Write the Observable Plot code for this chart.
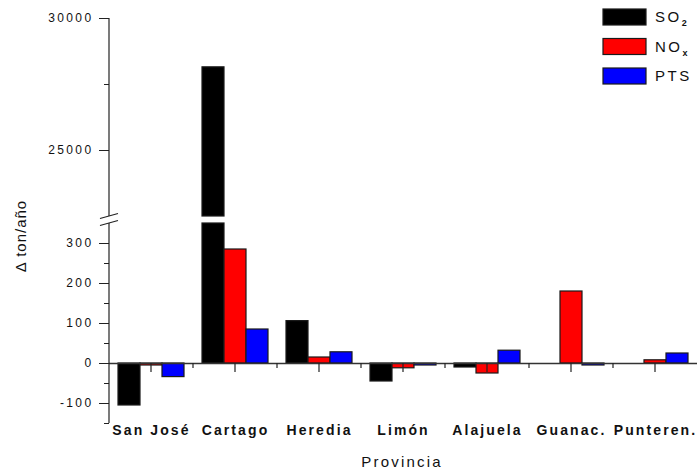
<!DOCTYPE html>
<html><head><meta charset="utf-8">
<script src="https://cdn.jsdelivr.net/npm/d3@7"></script>
<script src="https://cdn.jsdelivr.net/npm/@observablehq/plot@0.6"></script>
<style>
body{margin:0;background:#fff}
g[aria-label="y-axis tick label"] text{letter-spacing:2.4px}
g[aria-label="fx-axis tick label"] text{letter-spacing:2.1px}
</style></head><body><div id="chart"></div>
<script>
const provinces = ["San José","Cartago","Heredia","Limón","Alajuela","Guanac.","Punteren."];
const pollutants = ["SO2","NOx","PTS"];
const so2 = [-105, 28150, 106, -45, -10, 0, 0];
const nox = [-5, 285, 15, -12, -25, 180, 8];
const pts = [-34, 85, 28, -5, 32, -5, 25];
const colors = ["#000000","#ff0000","#0000ff"];
const yMajorTicks = [-100, 0, 100, 200, 300, 25000, 30000];
const yMinorTicks = [-150, -50, 50, 150, 250, 27500];
const lowerPanel = [-150, 350];
const upperPanel = [22500, 30000];
const legendLabels = [["SO","2"],["NO","x"],["PTS",""]];

// broken-axis mapping (layout settings): gap between panels and compression of the upper panel
const breakGap = 17.5, upperRatio = 0.066;
const brk = v => v <= lowerPanel[1] ? v : lowerPanel[1] + breakGap + (v - upperPanel[0]) * upperRatio;
const unbrk = t => t <= lowerPanel[1] ? t : upperPanel[0] + (t - lowerPanel[1] - breakGap) / upperRatio;

const series = [so2, nox, pts];
const rows = provinces.flatMap((prov, i) => pollutants.map((pol, j) => ({prov, pol, value: series[j][i]}))).filter(d => d.value !== 0);
const lowerBars = rows.map(d => ({...d, y1: 0, y2: Math.min(d.value, lowerPanel[1])}));
const upperBars = rows.filter(d => d.value > upperPanel[0]).map(d => ({...d, y1: upperPanel[0], y2: Math.min(d.value, upperPanel[1])}));

const font = '"Liberation Sans", Arial, sans-serif';
const barOpts = {fx: "prov", x: "pol", y1: d => brk(d.y1), y2: d => brk(d.y2), fill: "pol", stroke: "#1a1a1a", strokeWidth: 1.2};
const plot = Plot.plot({
  width: 697, height: 471,
  marginLeft: 106, marginRight: -3, marginTop: 18, marginBottom: 48,
  style: {fontFamily: font, background: "#fff", overflow: "visible", color: "#111"},
  fx: {domain: provinces, padding: 0, axis: null, label: null},
  x: {domain: pollutants, paddingInner: 0, paddingOuter: 0.35, axis: null},
  y: {domain: [brk(lowerPanel[0]), brk(upperPanel[1])], axis: null},
  color: {domain: pollutants, range: colors},
  marks: [
    Plot.barY(lowerBars, barOpts),
    Plot.barY(upperBars, barOpts),
    Plot.ruleY([0], {stroke: "#333", strokeWidth: 1.5}),
    Plot.axisY({ticks: yMajorTicks.map(brk), tickSize: 10, tickPadding: 6, tickFormat: t => String(Math.round(unbrk(t))), fontSize: 12, label: null, stroke: "#222"}),
    Plot.axisY({ticks: yMinorTicks.map(brk), tickSize: 5, tickFormat: () => "", label: null, stroke: "#222"}),
    Plot.axisFx({anchor: "bottom", tickSize: 0, tickPadding: 2, fontSize: 14, fontWeight: "bold", label: null})
  ]
});

const svg = d3.select(plot);
const y = plot.scale("y"), fx = plot.scale("fx"), color = plot.scale("color");
const Y = v => y.apply(brk(v));
const ax = fx.apply(provinces[0]);
const g = svg.append("g").attr("stroke", "#222").attr("stroke-width", 1.2).attr("fill", "none");
// axis line, in two segments
g.append("line").attr("x1", ax).attr("x2", ax).attr("y1", Y(upperPanel[1])).attr("y2", Y(upperPanel[0]));
g.append("line").attr("x1", ax).attr("x2", ax).attr("y1", Y(lowerPanel[1])).attr("y2", Y(lowerPanel[0]));
// break marks
[upperPanel[0], lowerPanel[1]].forEach(v => {
  const yy = Y(v);
  g.append("line").attr("x1", ax - 9).attr("x2", ax + 9).attr("y1", yy + 2.5).attr("y2", yy - 2.5);
});
// category ticks at zero line
const y0 = Y(0);
provinces.forEach((p, i) => {
  const s = fx.apply(p), c = s + fx.bandwidth / 2;
  g.append("line").attr("x1", c).attr("x2", c).attr("y1", y0).attr("y2", y0 + 9);
  if (i > 0) g.append("line").attr("x1", s).attr("x2", s).attr("y1", y0).attr("y2", y0 + 5);
});
// axis titles
svg.append("text").attr("transform", "translate(26,236) rotate(-90)").attr("text-anchor", "middle")
  .attr("font-size", 15).attr("letter-spacing", "1px").attr("fill", "#111").text("Δ ton/año");
svg.append("text").attr("x", 402).attr("y", 467).attr("text-anchor", "middle")
  .attr("font-size", 15).attr("letter-spacing", "2.2px").attr("fill", "#111").text("Provincia");
// legend
pollutants.forEach((p, i) => {
  const top = 9 + i * 29.5;
  svg.append("rect").attr("x", 603).attr("y", top).attr("width", 43).attr("height", 16)
    .attr("fill", color.apply(p)).attr("stroke", "#1a1a1a").attr("stroke-width", 1.2);
  const t = svg.append("text").attr("x", 655).attr("y", top + 13).attr("font-size", 15).attr("text-anchor", "start")
    .attr("letter-spacing", "2.5px").attr("fill", "#111").text(legendLabels[i][0]);
  if (legendLabels[i][1]) t.append("tspan").attr("dy", 4).attr("font-size", 9).attr("font-weight", "bold").text(legendLabels[i][1]);
});
document.getElementById("chart").append(plot);
</script></body></html>
